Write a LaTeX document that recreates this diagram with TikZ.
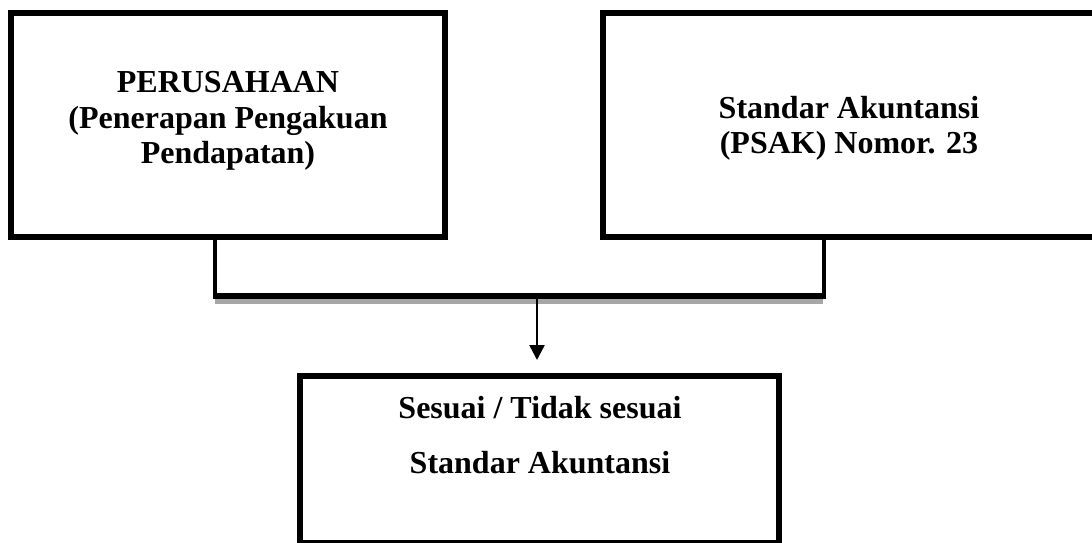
\documentclass[tikz,border=0pt]{standalone}
\usepackage{fontspec}
\setmainfont{Liberation Serif}
\usetikzlibrary{arrows.meta}
\begin{document}
\begin{tikzpicture}[x=0.5pt,y=-0.5pt,
  box/.style={draw=black, line width=3pt, fill=white, inner sep=0pt, outer sep=0pt},
  txt/.style={inner sep=0pt, outer sep=0pt, anchor=base, font=\bfseries\fontsize{16pt}{18pt}\selectfont},
  vline/.style={line width=2pt},
  hline/.style={line width=3pt},
  shadow/.style={fill=black!35, draw=none}]
\useasboundingbox (0,0) rectangle (1092,542);
\clip (0,0) rectangle (1092,542);
% boxes
\node[box, minimum width=217pt, minimum height=112pt] (lbox) at (228,125) {};
\node[box, minimum width=246pt, minimum height=112pt] (rbox) at (849,125) {};
\node[box, minimum width=239.5pt, minimum height=83.5pt] (bbox) at (539.5,459.5) {};
% texts
\node[txt] (l1) at (228,92) {PERUSAHAAN};
\node[txt] (l2) at (228,128) {(Penerapan Pengakuan};
\node[txt] (l3) at (228,163) {Pendapatan)};
\node[txt] (r1) at (849,118) {Standar Akuntansi};
\node[txt] (r2) at (849,153) {(PSAK) Nomor. 23};
\node[txt] (b1) at (540,418) {Sesuai / Tidak sesuai};
\node[txt] (b2) at (540,473) {Standar Akuntansi};
% connector
\coordinate (jl) at (215,299);
\coordinate (jr) at (823.5,299);
\coordinate (jm) at (537,299);
\fill[shadow] (215,299) rectangle (823,304);
\draw[vline] (lbox.south -| jl) -- (jl);
\draw[vline] (rbox.south -| jr) -- (jr);
\draw[hline] ([xshift=-1pt,yshift=1.5pt]jl) -- ([xshift=1pt,yshift=1.5pt]jr);
% arrow
\draw[line width=1.25pt, -{Triangle[width=7.5pt,length=7.5pt]}] (jm) -- ([yshift=8pt]jm |- bbox.north);
\end{tikzpicture}
\end{document}
